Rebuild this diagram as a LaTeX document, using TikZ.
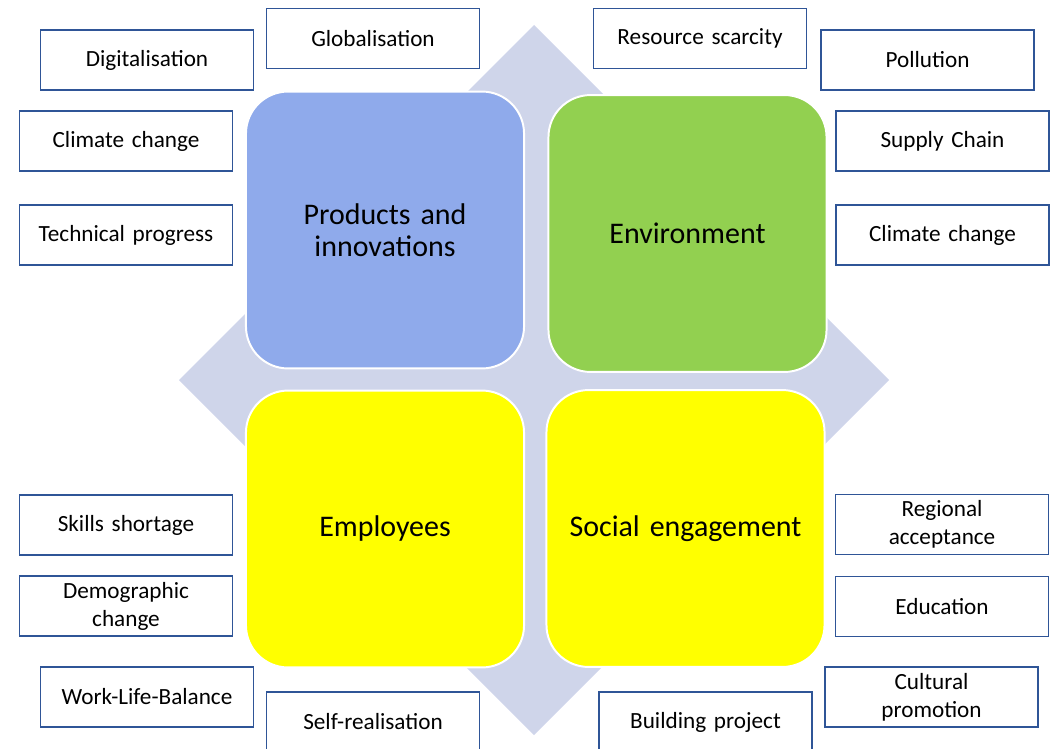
\documentclass[tikz,border=0pt]{standalone}
\usepackage{fontspec}
\setmainfont{Carlito}
\usepackage{tikz}
\usetikzlibrary{shapes,positioning}

\definecolor{diamondgrey}{RGB}{207,213,234}
\definecolor{areablue}{RGB}{143,170,235}
\definecolor{areagreen}{RGB}{146,208,80}
\definecolor{areayellow}{RGB}{255,255,0}
\definecolor{frameblue}{RGB}{47,85,151}

\begin{document}
\begin{tikzpicture}[x=0.025cm, y=-0.025cm,
    area/.style={rectangle, rounded corners=1.05cm, draw=white, line width=1.4pt,
        minimum width=6.95cm, minimum height=6.92cm, text width=6.5cm, text centered,
        font=\fontsize{21.3pt}{23pt}\selectfont},
    factor/.style={rectangle, draw=frameblue, line width=1.1pt, fill=white,
        minimum width=5.33cm, minimum height=1.5cm, text width=5cm, text centered,
        font=\fontsize{16.5pt}{20pt}\selectfont}]
    \clip (0,0) rectangle (1056,748);
    \useasboundingbox (0,0) rectangle (1056,748);

    % Background diamond
    \fill[diamondgrey] (534,25) -- (889,380) -- (534,735) -- (179,380) -- cycle;

    % Four fields of action
    \node[area, fill=areablue] (products) at (385,230) {Products and\\innovations};
    \node[area, fill=areagreen] (environment) at (687.5,233.5) {Environment};
    \node[area, fill=areayellow] (employees) at (385,529) {Employees};
    \node[area, fill=areayellow] (social) at (685.5,528.5) {Social engagement};

    % Influences on products and innovations
    \node[factor] (global) at (373,38.5) {Globalisation};
    \node[factor] (digital) at (147,60) {Digitalisation};
    \node[factor] (climateL) at (126,141) {Climate change};
    \node[factor] (techprog) at (126,235) {Technical progress};

    % Influences on the environment
    \node[factor] (resource) at (700,38.5) {Resource scarcity};
    \node[factor] (pollution) at (927.5,60) {Pollution};
    \node[factor] (supply) at (942.5,141) {Supply Chain};
    \node[factor] (climateR) at (942.5,235) {Climate change};

    % Influences on employees
    \node[factor] (skills) at (126,525) {Skills shortage};
    \node[factor] (demographic) at (126,606) {Demographic\\change};
    \node[factor] (worklife) at (147,697) {Work-Life-Balance};
    \node[factor] (selfreal) at (373,722) {Self-realisation};

    % Influences on social engagement
    \node[factor] (regional) at (942,524.5) {Regional\\acceptance};
    \node[factor] (education) at (942,606.5) {Education};
    \node[factor] (cultural) at (931.5,697) {Cultural\\promotion};
    \node[factor] (building) at (705.5,722) {Building project};

\end{tikzpicture}
\end{document}
